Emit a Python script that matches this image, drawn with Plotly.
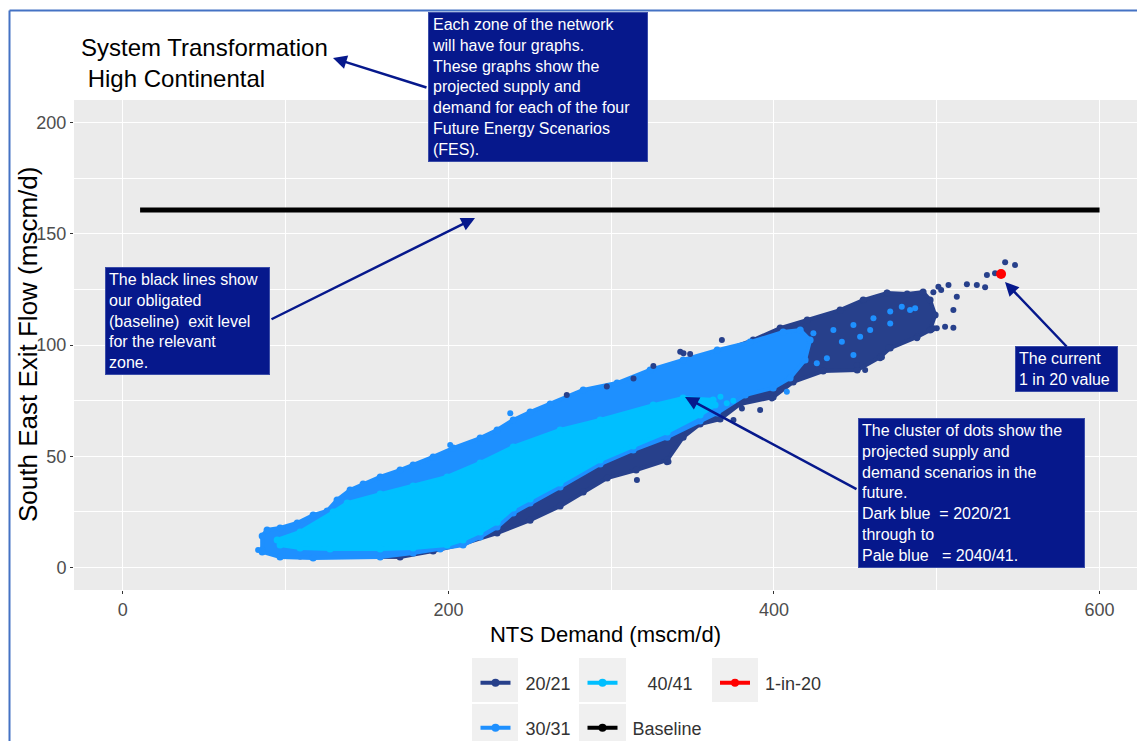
import plotly.graph_objects as go

FONT = "Liberation Sans, Arial, sans-serif"

# Scenario colours
C2021 = "#27408B"
C3031 = "#1E90FF"
C4041 = "#00BFFF"
C1IN20 = "#FF0000"
NAVY = "#06188C"

# Dense part of each year's cloud of (NTS demand, South East exit flow) points,
# given as the outline of the cloud
cloud2021_x = [108.9, 170.3, 190.6, 209.0, 229.9, 250.2, 268.6, 282.8, 297.5, 315.3,
               334.4, 344.2, 354.6, 366.9, 379.2, 399.5, 411.8, 430.2, 451.1, 465.2,
               471.4, 487.9, 495.9, 499.0, 495.9, 491.6, 481.8, 469.5, 454.8, 440.6,
               420.4, 403.8, 387.2, 366.9, 344.2, 293.2, 231.8, 170.3, 108.9]
cloud2021_y = [5.2, 4.7, 7.4, 10.6, 15.5, 21.3, 27.6, 33.9, 40.2, 43.8,
               48.3, 58.6, 64.5, 66.7, 73.5, 76.6, 83.4, 88.3, 88.8, 94.6,
               98.6, 103.6, 106.7, 113.5, 120.2, 123.8, 122.9, 123.4, 120.2, 115.7,
               111.2, 107.6, 102.2, 96.8, 89.7, 64.0, 48.3, 30.3, 12.4]

cloud3031_x = [85.6, 85.6, 88.6, 96.6, 107.1, 116.9, 125.5, 131.6, 139.6, 147.6,
               158.1, 170.3, 178.3, 190.6, 202.9, 219.5, 229.9, 239.8, 250.2, 262.5,
               282.8, 303.6, 323.9, 344.2, 365.1, 385.3, 405.6, 416.1, 422.2, 419.1,
               409.9, 399.5, 382.3, 365.1, 354.6, 334.4, 313.5, 293.2, 268.6, 250.2,
               239.8, 229.9, 219.5, 209.0, 194.9, 178.3, 158.1, 116.9, 96.6, 85.6]
cloud3031_y = [7.9, 14.2, 16.9, 17.8, 20.0, 23.6, 25.4, 30.3, 34.8, 37.5,
               40.7, 43.8, 46.1, 49.7, 53.7, 58.2, 61.8, 66.3, 69.9, 73.5,
               79.8, 82.9, 88.8, 93.3, 97.7, 101.3, 105.8, 106.7, 102.2, 93.3,
               85.2, 80.7, 77.5, 69.4, 65.8, 58.6, 52.8, 46.5, 36.2, 29.0,
               24.5, 18.2, 13.7, 10.1, 8.3, 6.5, 4.7, 4.3, 4.7, 7.0]

cloud4041_x = [94.8, 108.9, 129.2, 137.8, 158.1, 178.3, 199.2, 219.5, 239.8, 268.6,
               293.2, 325.8, 344.2, 362.6, 363.8, 354.6, 334.4, 313.5, 293.2, 268.6,
               250.2, 239.8, 229.9, 219.5, 209.0, 199.2, 178.3, 158.1, 127.3, 108.9,
               96.6]
cloud4041_y = [12.4, 16.0, 24.9, 29.0, 33.0, 36.6, 40.7, 47.0, 54.2, 61.8,
               66.3, 73.0, 76.2, 75.3, 73.0, 68.5, 60.9, 54.6, 48.3, 38.0,
               30.8, 26.7, 20.4, 16.0, 12.4, 10.1, 8.8, 8.3, 8.3, 8.8,
               10.1]

# Individual points lying outside the dense clouds
pts2021_x = [542.0, 548.1, 530.8, 535.8, 524.6, 518.5, 529.7, 512.3, 507.2, 501.0,
             469.3, 455.0, 510.2, 498.0, 505.1, 510.2, 487.8, 470.3, 465.2, 450.9,
             456.0, 334.2, 391.5, 380.3, 368.0, 344.4, 342.4, 348.5, 325.9, 313.7,
             297.3, 272.7, 335.2, 315.8, 398.7, 375.1, 502.7, 497.9, 500.0, 497.0,
             466.3]
pts2021_y = [137.2, 135.9, 131.5, 132.2, 127.0, 127.3, 125.9, 121.7, 127.0, 126.2,
             123.5, 120.2, 115.7, 107.5, 108.2, 107.8, 103.0, 99.0, 94.0, 91.0,
             88.8, 47.3, 70.8, 71.5, 102.2, 96.3, 97.0, 95.9, 90.6, 85.0,
             81.3, 77.5, 47.5, 39.3, 76.0, 66.3, 124.7, 123.7, 107.5, 107.0,
             94.5]

pts3031_x = [424.2, 436.5, 441.7, 448.8, 452.9, 459.1, 461.1, 471.4, 478.5, 483.6,
             486.7, 432.5, 426.3, 407.9, 448.8, 471.4, 83.1, 238.0, 201.1, 117.1]
pts3031_y = [105.3, 106.7, 101.5, 109.0, 103.7, 106.7, 112.0, 115.0, 117.2, 115.7,
             116.5, 94.0, 91.8, 79.0, 95.5, 109.7, 7.9, 69.3, 55.1, 23.6]

pts4041_x = [367.1, 371.0, 375.0]
pts4041_y = [76.8, 73.8, 75.0]

# Obligated (baseline) exit level and the current 1-in-20 value
baseline_x = [10.6, 600.0]
baseline_y = [160.7, 160.7]
one_in_20_x = [539.5]
one_in_20_y = [131.9]

# Axis ticks
x_ticks = [0, 200, 400, 600]
x_minor = [100, 300, 500]
y_ticks = [0, 50, 100, 150, 200]
y_minor = [25, 75, 125, 175]

fig = go.Figure()

# clouds: filled outlines, with a dot on every outline vertex for a grainy edge
for cx, cy, col in [(cloud2021_x, cloud2021_y, C2021),
                    (cloud3031_x, cloud3031_y, C3031),
                    (cloud4041_x, cloud4041_y, C4041)]:
    fig.add_trace(go.Scatter(x=cx, y=cy, mode="lines+markers", fill="toself",
                             fillcolor=col, line=dict(color=col, width=4),
                             marker=dict(color=col, size=7, line=dict(width=0)),
                             showlegend=False, hoverinfo="skip"))

for px_, py_, col in [(pts2021_x, pts2021_y, C2021),
                      (pts3031_x, pts3031_y, C3031),
                      (pts4041_x, pts4041_y, C4041)]:
    fig.add_trace(go.Scatter(x=px_, y=py_, mode="markers",
                             marker=dict(color=col, size=6, line=dict(width=0)),
                             showlegend=False, hoverinfo="skip"))

fig.add_trace(go.Scatter(x=baseline_x, y=baseline_y, mode="lines",
                         line=dict(color="black", width=5),
                         showlegend=False, hoverinfo="skip"))
fig.add_trace(go.Scatter(x=one_in_20_x, y=one_in_20_y, mode="markers",
                         marker=dict(color=C1IN20, size=10, line=dict(width=0)),
                         showlegend=False, hoverinfo="skip"))

# Legend entries (one legend box per key so the grid matches the key tiles)
NB = "\u00a0"
legend_items = [
    (NB * 2 + "20/21", C2021, "legend"),
    (NB * 5 + "40/41", C4041, "legend2"),
    (NB * 2 + "1-in-20", C1IN20, "legend3"),
    (NB * 2 + "30/31", C3031, "legend4"),
    (NB * 2 + "Baseline", "black", "legend5"),
]
for name, col, leg in legend_items:
    fig.add_trace(go.Scatter(x=[None], y=[None], mode="lines+markers", name=name,
                             line=dict(color=col, width=4),
                             marker=dict(color=col, size=8),
                             legend=leg, showlegend=True))

# pixel -> paper helpers for the layout
PL, PR, PT, PB = 74, 1137, 100, 590


def pxx(p):
    return (p - PL) / (PR - PL)


def pxy(p):
    return (PB - p) / (PB - PT)


def legend_box(x, y):
    return dict(orientation="h", x=pxx(x), y=pxy(y), xanchor="left", yanchor="middle",
                bgcolor="rgba(0,0,0,0)", font=dict(family=FONT, size=18, color="#333333"))


shapes = []
# key tiles
for (x0, x1) in [(472, 518), (579, 626), (712, 758)]:
    shapes.append(dict(type="rect", xref="paper", yref="paper", layer="below",
                       x0=pxx(x0), x1=pxx(x1), y0=pxy(702), y1=pxy(658),
                       fillcolor="#F0F0F0", line=dict(width=0)))
for (x0, x1) in [(472, 518), (579, 626)]:
    shapes.append(dict(type="rect", xref="paper", yref="paper", layer="below",
                       x0=pxx(x0), x1=pxx(x1), y0=pxy(750), y1=pxy(704),
                       fillcolor="#F0F0F0", line=dict(width=0)))
# slide frame
shapes.append(dict(type="line", xref="paper", yref="paper", x0=pxx(9.5), x1=pxx(9.5),
                   y0=pxy(10.5), y1=pxy(760), line=dict(color="#4472C4", width=2)))
shapes.append(dict(type="line", xref="paper", yref="paper", x0=pxx(9.5), x1=pxx(1150),
                   y0=pxy(10.5), y1=pxy(10.5), line=dict(color="#4472C4", width=2)))

annotations = []
# chart title
annotations.append(dict(xref="paper", yref="paper", x=pxx(79), y=pxy(62.5),
                        xanchor="left", yanchor="middle", align="left", showarrow=False,
                        text="System Transformation<br>" + NB + "High Continental",
                        font=dict(family=FONT, size=24, color="black")))
# y-axis title, set close against the tick labels
annotations.append(dict(xref="paper", yref="paper", x=pxx(28), y=0.5,
                        xanchor="center", yanchor="middle", textangle=-90,
                        showarrow=False, text="South East Exit Flow (mscm/d)",
                        font=dict(family=FONT, size=26, color="black")))

box_style = dict(xref="paper", yref="paper", xanchor="left", yanchor="middle",
                 align="left", showarrow=False, bgcolor=NAVY, bordercolor="#3A4CA8",
                 borderwidth=1, borderpad=3,
                 font=dict(family=FONT, size=16, color="white"))
boxes = [
    (428, 86.5, 212,
     "Each zone of the network<br>will have four graphs.<br>These graphs show the<br>"
     "projected supply and<br>demand for each of the four<br>Future Energy Scenarios<br>(FES)."),
    (105, 321, 157,
     "The black lines show<br>our obligated<br>(baseline)" + NB + " exit level<br>"
     "for the relevant<br>zone."),
    (858, 493, 219,
     "The cluster of dots show the<br>projected supply and<br>demand scenarios in the<br>"
     "future.<br>Dark blue" + NB + " = 2020/21<br>through to<br>Pale blue" + NB * 2 + " = 2040/41."),
    (1015, 368.5, 95, "The current<br>1 in 20 value"),
]
for bx, by, bw, txt in boxes:
    annotations.append(dict(x=pxx(bx), y=pxy(by), width=bw, text=txt, **box_style))

# arrows from each note to what it describes: (head px, tail px)
arrows = [
    ((333, 58), (428, 88)),
    ((475, 218), (270, 320)),
    ((685, 397), (858, 490)),
    ((1005, 282), (1068, 348)),
]
for (hx, hy), (tx, ty) in arrows:
    annotations.append(dict(xref="paper", yref="paper", x=pxx(hx), y=pxy(hy),
                            axref="pixel", ayref="pixel", ax=tx - hx, ay=ty - hy,
                            text="", showarrow=True, arrowhead=2, arrowsize=1.1,
                            arrowwidth=2.5, arrowcolor=NAVY))

fig.update_layout(
    width=1137, height=741,
    margin=dict(l=PL, r=1137 - PR, t=PT, b=741 - PB, autoexpand=False),
    paper_bgcolor="white", plot_bgcolor="#EBEBEB",
    font=dict(family=FONT, color="#4D4D4D"),
    xaxis=dict(range=[-30, 623], tickmode="array", tickvals=x_ticks,
               showgrid=True, gridcolor="white", gridwidth=1.2,
               minor=dict(tickmode="array", tickvals=x_minor, showgrid=True,
                          gridcolor="white", gridwidth=0.6),
               zeroline=False, showline=False, automargin=False,
               ticks="outside", ticklen=3, tickwidth=1, tickcolor="#333333",
               tickfont=dict(family=FONT, size=18, color="#4D4D4D"),
               title=dict(text="NTS Demand (mscm/d)", standoff=8,
                          font=dict(family=FONT, size=22, color="black"))),
    yaxis=dict(range=[-10.1, 210.1], tickmode="array", tickvals=y_ticks,
               showgrid=True, gridcolor="white", gridwidth=1.2,
               minor=dict(tickmode="array", tickvals=y_minor, showgrid=True,
                          gridcolor="white", gridwidth=0.6),
               zeroline=False, showline=False, automargin=False,
               ticks="outside", ticklen=3, tickwidth=1, tickcolor="#333333",
               tickfont=dict(family=FONT, size=18, color="#4D4D4D")),
    legend=legend_box(475.5, 683),
    legend2=legend_box(582.5, 683),
    legend3=legend_box(715, 683),
    legend4=legend_box(475.5, 728),
    legend5=legend_box(582.5, 728),
    shapes=shapes,
    annotations=annotations,
    hovermode=False,
)

fig.write_html("out.html")
